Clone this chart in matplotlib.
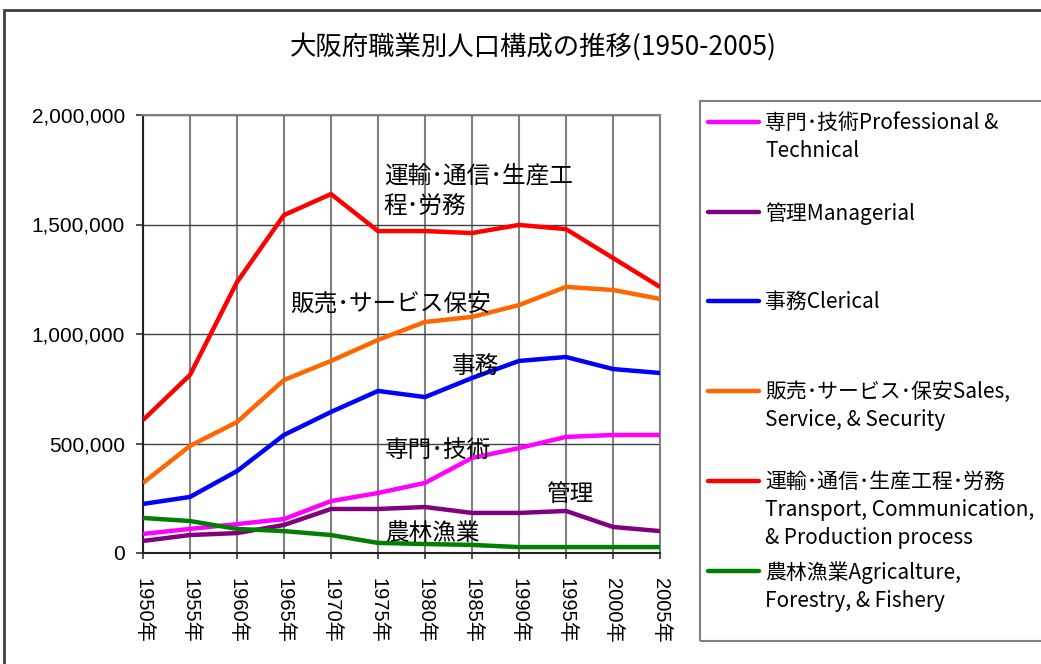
import matplotlib.pyplot as plt
from matplotlib.lines import Line2D
from matplotlib.patches import Rectangle
from matplotlib.ticker import FuncFormatter

plt.rcParams['font.family'] = ['Noto Sans CJK JP', 'DejaVu Sans']

# 年
years = [1950, 1955, 1960, 1965, 1970, 1975, 1980, 1985, 1990, 1995, 2000, 2005]
year_labels = [str(y) + '年' for y in years]

# 職業別人口
professional = [87000, 110000, 132000, 155000, 237000, 274000, 320000, 434000, 479000, 530000, 539000, 539000]
managerial = [55000, 82000, 91000, 128000, 201000, 201000, 210000, 183000, 183000, 192000, 119000, 100000]
clerical = [224000, 256000, 374000, 539000, 644000, 740000, 712000, 799000, 877000, 895000, 840000, 822000]
sales = [320000, 489000, 598000, 790000, 877000, 973000, 1055000, 1078000, 1132000, 1215000, 1201000, 1160000]
transport = [607000, 813000, 1237000, 1543000, 1639000, 1470000, 1470000, 1461000, 1498000, 1479000, 1347000, 1215000]
agri = [160000, 146000, 110000, 100000, 82000, 46000, 41000, 37000, 27000, 27000, 27000, 27000]

series = [professional, managerial, clerical, sales, transport, agri]
colors = ['#FF00FF', '#800080', '#0000FF', '#FF6600', '#FF0000', '#008000']
legend_labels = ['専門･技術Professional &\nTechnical',
                 '管理Managerial',
                 '事務Clerical',
                 '販売･サービス･保安Sales,\nService, & Security',
                 '運輸･通信･生産工程･労務\nTransport, Communication,\n& Production process',
                 '農林漁業Agricalture,\nForestry, & Fishery']

# グラフ内ラベル (年, 値)
notes = [('運輸･通信･生産工\n程･労務', 1975.6, 1653000),
         ('販売･サービス保安', 1965.7, 1137000),
         ('事務', 1982.9, 854000),
         ('専門･技術', 1975.7, 470000),
         ('管理', 1992.9, 265000),
         ('農林漁業', 1975.7, 87000)]

tick_font = ['Liberation Sans', 'Noto Sans CJK JP']

W, H = 1041, 664
fig = plt.figure(figsize=(W / 100, H / 100), dpi=100)
ax = fig.add_axes([143 / W, 1 - 553 / H, (660 - 143) / W, (553 - 115) / H])

for vals, c in zip(series, colors):
    ax.plot(years, vals, color=c, lw=3.2, solid_capstyle='butt', zorder=3)

ax.set_xlim(1950, 2005)
ax.set_ylim(0, 2000000)
ax.set_yticks([0, 500000, 1000000, 1500000, 2000000])
ax.yaxis.set_major_formatter(FuncFormatter(lambda v, p: f'{int(v):,}'))
ax.set_xticks(years)
ax.set_xticklabels(year_labels, rotation=270, fontsize=14.5, family=tick_font)
for t in ax.get_yticklabels():
    t.set_family(tick_font)
ax.tick_params(axis='y', labelsize=15, length=5, width=1.2, color='#333333', pad=8)
ax.tick_params(axis='x', length=4, width=1.2, color='#333333', pad=14)
ax.xaxis.grid(True, color='#808080', lw=1.5)
ax.yaxis.grid(True, color='#404040', lw=1.0)
ax.set_axisbelow(True)
for s in ['top', 'right']:
    ax.spines[s].set_color('#808080')
    ax.spines[s].set_linewidth(1.5)
for s in ['left', 'bottom']:
    ax.spines[s].set_color('#222222')
    ax.spines[s].set_linewidth(1.5)

for txt, x, y in notes:
    ax.text(x, y, txt, fontsize=17, ha='left', va='center', linespacing=1.4, zorder=4)

fig.text(533 / W, 1 - 47 / H, '大阪府職業別人口構成の推移(1950-2005)', fontsize=19,
         ha='center', va='center')

# 外枠
fig.add_artist(Rectangle((4 / W, -0.1), 1.2, 1.1 - 10 / H, transform=fig.transFigure,
                         fill=False, edgecolor='#404040', lw=2))

# 凡例
fig.add_artist(Rectangle((700 / W, 1 - 641 / H), 0.5, (641 - 101) / H, transform=fig.transFigure,
                         fill=False, edgecolor='#808080', lw=1.5))
entry_y = [122, 212, 301, 391, 481, 571]
for lab, c, py in zip(legend_labels, colors, entry_y):
    yf = 1 - py / H
    fig.add_artist(Line2D([708 / W, 759 / W], [yf, yf], transform=fig.transFigure,
                          color=c, lw=3.2, solid_capstyle='round'))
    fig.text(765 / W, 1 - (py - 10) / H, lab, fontsize=15, ha='left', va='top',
             linespacing=1.35)

fig.savefig('out.png', dpi=100)
